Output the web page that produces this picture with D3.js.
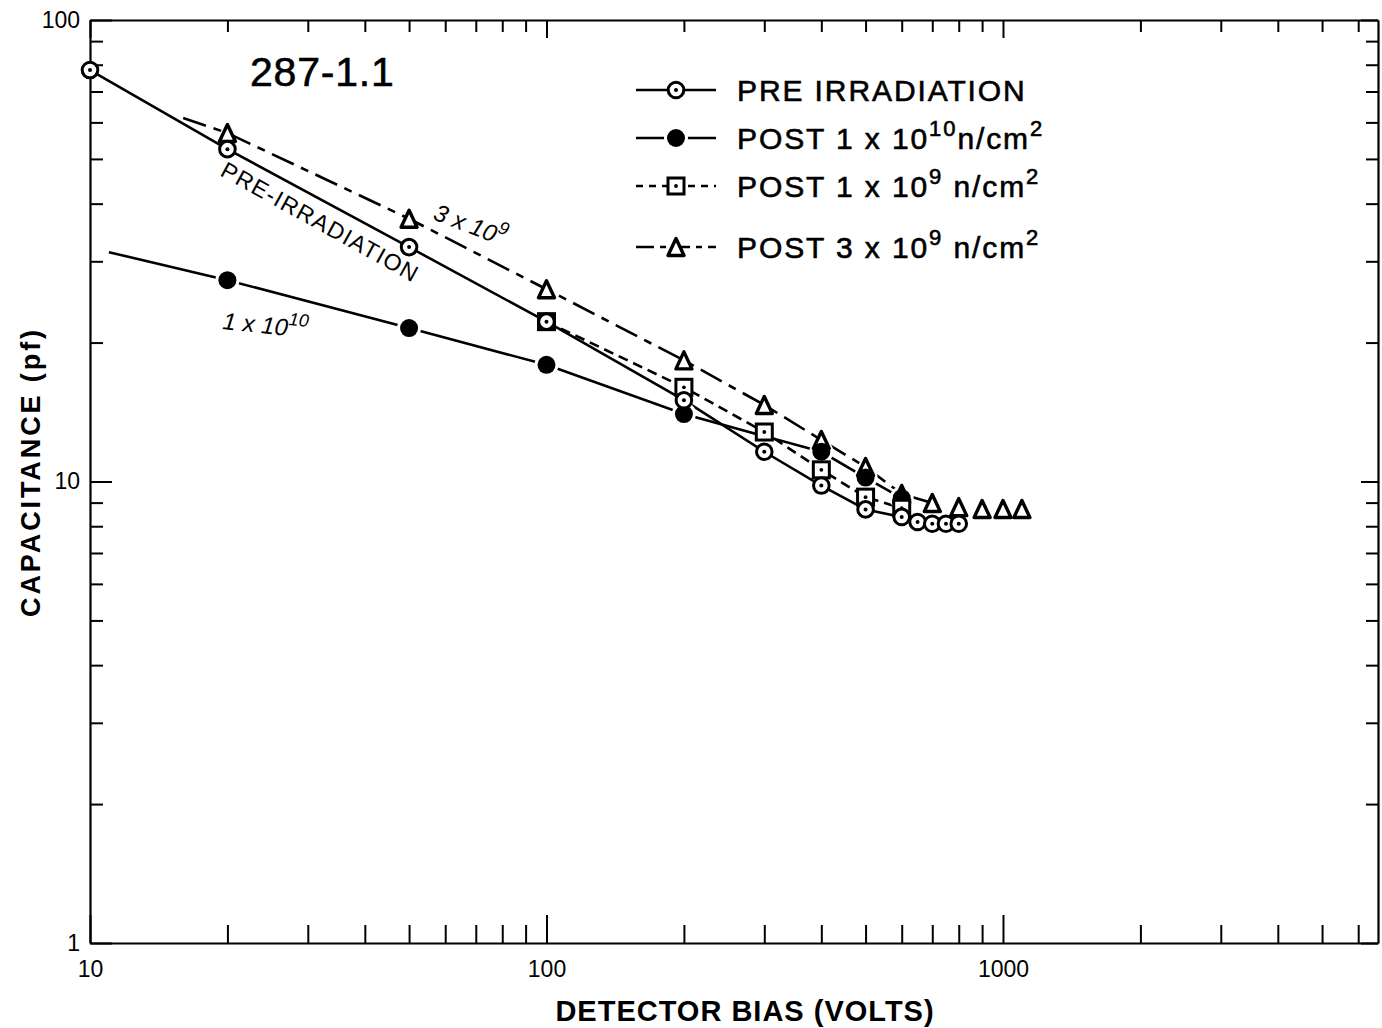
<!DOCTYPE html>
<html>
<head>
<meta charset="utf-8">
<script src="https://cdn.jsdelivr.net/npm/d3@7"></script>
<style>
  body { margin: 0; background: #fff; }
  text { font-family: "Liberation Sans", Arial, sans-serif; fill: #000; }
  .heavy { stroke: #000; stroke-width: 0.6px; }
</style>
</head>
<body>
<svg width="1382" height="1028"></svg>
<script>
// values: detector bias (V) -> capacitance (pF)
var biasPre = [10, 20, 50, 100, 200, 300, 400, 500, 600, 650, 700, 750, 800];
var capPre = [77.9, 52.5, 32.2, 22.2, 15.0, 11.6, 9.8, 8.7, 8.38, 8.17, 8.1, 8.1, 8.1];

var bias1e10 = [11, 20, 50, 100, 200, 400, 500, 600];
var cap1e10 = [31.4, 27.3, 21.5, 17.9, 14.0, 11.6, 10.2, 9.2];
var mark1e10 = [0, 1, 1, 1, 1, 1, 1, 1];

var bias1e9 = [100, 200, 300, 400, 500, 600];
var cap1e9 = [22.2, 16.0, 12.8, 10.6, 9.25, 8.75];

var bias3e9 = [16, 20, 50, 100, 200, 300, 400, 500, 600, 700, 800, 900, 1000, 1100];
var cap3e9 = [61.3, 56.9, 37.1, 26.1, 18.3, 14.65, 12.3, 10.75, 9.4, 8.98, 8.8, 8.72, 8.72, 8.72];
var mark3e9 = [0, 1, 1, 1, 1, 1, 1, 1, 1, 1, 1, 1, 1, 1];
var join3e9 = [1, 1, 1, 1, 1, 1, 1, 1, 1, 1, 0, 0, 0, 0];

var xTickLabels = [10, 100, 1000];
var yTickLabels = [1, 10, 100];

var svg = d3.select("svg");
var plotLeft = 90, plotRight = 1378, plotTop = 20, plotBottom = 943;

var x = d3.scaleLog().domain([10, 6630]).range([plotLeft, plotRight]);
var y = d3.scaleLog().domain([1, 100]).range([plotBottom, plotTop]);

function isMajor(d) {
  return Math.abs(Math.log10(d) - Math.round(Math.log10(d))) < 1e-9;
}

// axes on all four sides, ticks pointing inward
function drawAxis(axis, tr, labels) {
  var g = svg.append("g").attr("transform", tr).call(axis);
  g.select(".domain").attr("stroke-width", 2.2);
  g.selectAll(".tick line").attr("stroke-width", 2);
  g.selectAll(".tick text")
    .style("font-size", "23px")
    .text(function (d) { return labels && labels.indexOf(d) >= 0 ? d : ""; });
  return g;
}

var xTicks = x.ticks();
var yTicks = y.ticks();

var gb = drawAxis(d3.axisBottom(x).tickValues(xTicks).tickSize(-18).tickSizeOuter(0).tickPadding(18),
  "translate(0," + plotBottom + ")", xTickLabels);
gb.selectAll(".tick line").filter(isMajor).attr("y2", -28);

var gt = drawAxis(d3.axisTop(x).tickValues(xTicks).tickSize(-12).tickSizeOuter(0),
  "translate(0," + plotTop + ")", null);
gt.selectAll(".tick line").filter(isMajor).attr("y2", 18);

var gl = drawAxis(d3.axisLeft(y).tickValues(yTicks).tickSize(-13).tickSizeOuter(0).tickPadding(10),
  "translate(" + plotLeft + ",0)", yTickLabels);
gl.selectAll(".tick line").filter(isMajor).attr("x2", 22);

var gr = drawAxis(d3.axisRight(y).tickValues(yTicks).tickSize(-12).tickSizeOuter(0),
  "translate(" + plotRight + ",0)", null);
gr.selectAll(".tick line").filter(isMajor).attr("x2", -17);

// series lines
var line = d3.line().x(function (d) { return x(d[0]); }).y(function (d) { return y(d[1]); });

function pts(b, c) { return b.map(function (v, i) { return [v, c[i]]; }); }

var linesG = svg.append("g").attr("fill", "none").attr("stroke", "#000").attr("stroke-width", 2.6);
linesG.append("path").attr("d", line(pts(biasPre, capPre)));
linesG.append("path").attr("d", line(pts(bias1e10, cap1e10)));
linesG.append("path").attr("d", line(pts(bias1e9, cap1e9))).attr("stroke-dasharray", "10,6");
linesG.append("path")
  .attr("d", line(pts(bias3e9, cap3e9).filter(function (d, i) { return join3e9[i]; })))
  .attr("stroke-dasharray", "24,8,8,8");

// marker shapes
function openCircle(g, cx, cy) {
  g.append("circle").attr("cx", cx).attr("cy", cy).attr("r", 7.8)
    .attr("fill", "#fff").attr("stroke", "#000").attr("stroke-width", 3);
  g.append("circle").attr("cx", cx).attr("cy", cy).attr("r", 2).attr("fill", "#000");
}
function haloCircle(g, cx, cy) {
  g.append("circle").attr("cx", cx).attr("cy", cy).attr("r", 12).attr("fill", "#fff");
}
function filledCircle(g, cx, cy, noHalo) {
  if (!noHalo) haloCircle(g, cx, cy);
  g.append("circle").attr("cx", cx).attr("cy", cy).attr("r", 9).attr("fill", "#000");
}
function square(g, cx, cy) {
  g.append("rect").attr("x", cx - 8).attr("y", cy - 8).attr("width", 16).attr("height", 16)
    .attr("fill", "#fff").attr("stroke", "#000").attr("stroke-width", 3);
  g.append("circle").attr("cx", cx).attr("cy", cy).attr("r", 1.9).attr("fill", "#000");
}
function triangle(g, cx, cy) {
  var h = 17, w = 16;
  g.append("path")
    .attr("d", "M" + cx + "," + (cy - h / 2) + "L" + (cx + w / 2) + "," + (cy + h / 2) +
      "L" + (cx - w / 2) + "," + (cy + h / 2) + "Z")
    .attr("fill", "#fff").attr("stroke", "#000").attr("stroke-width", 3.4)
    .attr("stroke-linejoin", "round");
}

var markG = svg.append("g");
bias1e10.forEach(function (b, i) { if (mark1e10[i]) haloCircle(markG, x(b), y(cap1e10[i])); });
bias3e9.forEach(function (b, i) { if (mark3e9[i]) triangle(markG, x(b), y(cap3e9[i])); });
bias1e10.forEach(function (b, i) { if (mark1e10[i]) filledCircle(markG, x(b), y(cap1e10[i]), true); });
bias1e9.forEach(function (b, i) { square(markG, x(b), y(cap1e9[i])); });
biasPre.forEach(function (b, i) { openCircle(markG, x(b), y(capPre[i])); });

// legend
var legendRows = [
  { y: 90, dash: null, mark: openCircle, parts: [["PRE IRRADIATION", 0]] },
  { y: 138, dash: null, mark: filledCircle, parts: [["POST 1 x 10", 0], ["10", 1], ["n/cm", 0], ["2", 1]] },
  { y: 186, dash: "7,6", mark: square, parts: [["POST 1 x 10", 0], ["9", 1], [" n/cm", 0], ["2", 1]] },
  { y: 247, dash: "18,6,6,6", mark: triangle, parts: [["POST 3 x 10", 0], ["9", 1], [" n/cm", 0], ["2", 1]] }
];
var lg = svg.append("g");
legendRows.forEach(function (r) {
  lg.append("line").attr("x1", 636).attr("x2", 716).attr("y1", r.y).attr("y2", r.y)
    .attr("stroke", "#000").attr("stroke-width", 2.6)
    .attr("stroke-dasharray", r.dash);
  r.mark(lg, 676, r.y);
  var t = lg.append("text").attr("class", "heavy").attr("x", 737).attr("y", r.y + 11)
    .style("font-size", "30px").style("letter-spacing", "1.9px");
  var up = false;
  r.parts.forEach(function (p) {
    var ts = t.append("tspan").text(p[0]);
    if (p[1] && !up) { ts.attr("dy", -13).style("font-size", "22px"); up = true; }
    else if (p[1]) { ts.style("font-size", "22px"); }
    else if (up) { ts.attr("dy", 13); up = false; }
  });
});

// title and curve annotations
svg.append("text").attr("class", "heavy").attr("x", 250).attr("y", 86)
  .style("font-size", "41px").style("letter-spacing", "0.8px").text("287-1.1");

svg.append("text").attr("transform", "translate(219,175) rotate(29)")
  .style("font-size", "23px").style("letter-spacing", "1.4px").text("PRE-IRRADIATION");

var a3 = svg.append("text").attr("transform", "translate(432,219) rotate(21)")
  .style("font-size", "24px").style("font-style", "italic");
a3.append("tspan").text("3 x 10");
a3.append("tspan").attr("dy", -11).style("font-size", "18px").text("9");

var a10 = svg.append("text").attr("transform", "translate(222,329) rotate(6)")
  .style("font-size", "24px").style("font-style", "italic");
a10.append("tspan").text("1 x 10");
a10.append("tspan").attr("dy", -11).style("font-size", "18px").text("10");

// axis titles
svg.append("text").attr("x", 745).attr("y", 1021).attr("text-anchor", "middle")
  .style("font-size", "29px").style("font-weight", "bold").style("letter-spacing", "1px")
  .text("DETECTOR BIAS (VOLTS)");

svg.append("text").attr("transform", "translate(40,472) rotate(-90)").attr("text-anchor", "middle")
  .style("font-size", "27px").style("font-weight", "bold").style("letter-spacing", "2.9px")
  .text("CAPACITANCE (pf)");
</script>
</body>
</html>
